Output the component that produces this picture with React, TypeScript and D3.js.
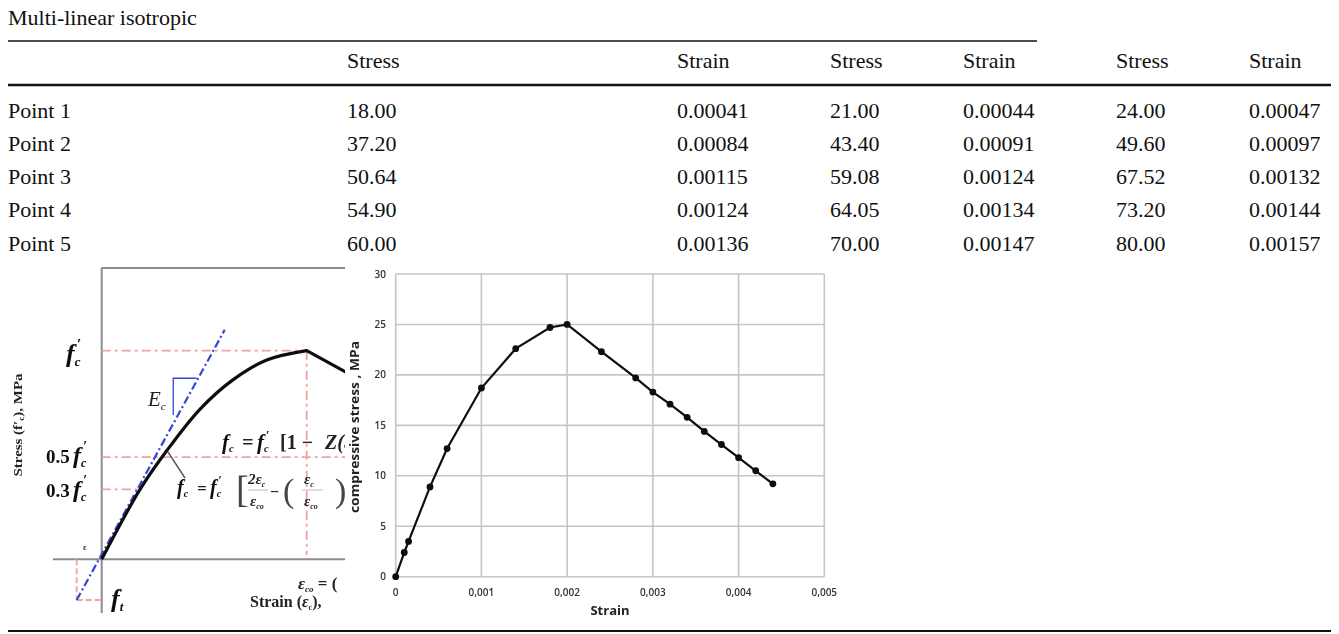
import React from "react";
import * as d3 from "d3";

const W = 1339;
const H = 634;

// ---- table data ----
const tableTitle = "Multi-linear isotropic";
const headerLabels = ["Stress", "Strain", "Stress", "Strain", "Stress", "Strain"];
const pointLabels = ["Point 1", "Point 2", "Point 3", "Point 4", "Point 5"];
const stressA = [18.0, 37.2, 50.64, 54.9, 60.0];
const strainA = [0.00041, 0.00084, 0.00115, 0.00124, 0.00136];
const stressB = [21.0, 43.4, 59.08, 64.05, 70.0];
const strainB = [0.00044, 0.00091, 0.00124, 0.00134, 0.00147];
const stressC = [24.0, 49.6, 67.52, 73.2, 80.0];
const strainC = [0.00047, 0.00097, 0.00132, 0.00144, 0.00157];

// ---- right chart (test curve) ----
const testStrain = [0, 0.0001, 0.00015, 0.0004, 0.0006, 0.001, 0.0014, 0.0018, 0.002, 0.0024, 0.0028, 0.003, 0.0032, 0.0034, 0.0036, 0.0038, 0.004, 0.0042, 0.0044];
const testStress = [0, 2.4, 3.5, 8.9, 12.7, 18.7, 22.6, 24.7, 25.0, 22.3, 19.7, 18.3, 17.1, 15.8, 14.4, 13.1, 11.8, 10.5, 9.2];
const strainTicks = [0, 0.001, 0.002, 0.003, 0.004, 0.005];
const stressTicks = [0, 5, 10, 15, 20, 25, 30];

// ---- left sketch (strain / eps_co, stress / f'c) ----
const sketchRiseStrain = [0, 0.187, 0.317, 0.48, 0.64, 0.805, 1];
const sketchRiseStress = [0, 0.335, 0.52, 0.72, 0.86, 0.955, 1];
const sketchFallStrain = [1, 1.187];
const sketchFallStress = [1, 0.9];
const tangentStrain = [-0.122, 0.6];
const tangentStress = [-0.195, 1.1];
const refLevels = [1, 0.49, 0.335];
const refLevelEnds = [1, 1.2, 0.19];
const tensionStrain = -0.122;
const tensionStress = -0.195;

const serif = "'Liberation Serif', 'Times New Roman', serif";
const sans = "'Open Sans', 'DejaVu Sans', sans-serif";

function FSym({ x, y, size, sub, prime }: { x: number; y: number; size: number; sub: string; prime?: boolean }) {
  return (
    <text x={x} y={y} fontFamily={serif} fontStyle="italic" fontWeight="bold" fontSize={size} fill="#111">
      f
      <tspan fontSize={size * 0.5} dy={size * 0.16}>{sub}</tspan>
      {prime && (
        <tspan fontSize={size * 0.6} dx={-size * 0.14} dy={-size * 0.66}>′</tspan>
      )}
    </text>
  );
}

function Table() {
  const cols = [347, 677, 830, 963, 1116, 1249];
  const rowY = (i: number) => 117.5 + i * 33.3;
  const columns = [stressA, strainA, stressB, strainB, stressC, strainC];
  return (
    <g fontFamily={serif} fontSize={22} fill="#111">
      <text x={8} y={25}>{tableTitle}</text>
      <line x1={8} x2={1037} y1={41} y2={41} stroke="#111" strokeWidth={1.5} />
      {headerLabels.map((h, i) => (
        <text key={i} x={cols[i]} y={67.5}>{h}</text>
      ))}
      <line x1={8} x2={1331} y1={85} y2={85} stroke="#111" strokeWidth={2.6} />
      {pointLabels.map((p, r) => (
        <g key={p}>
          <text x={8} y={rowY(r)}>{p}</text>
          {columns.map((col, c) => (
            <text key={c} x={cols[c]} y={rowY(r)}>
              {c % 2 === 0 ? col[r].toFixed(2) : col[r].toFixed(5)}
            </text>
          ))}
        </g>
      ))}
      <line x1={8} x2={1331} y1={631} y2={631} stroke="#111" strokeWidth={2.2} />
    </g>
  );
}

function Sketch() {
  const lx = d3.scaleLinear().domain([0, 1]).range([101.7, 306.7]);
  const ly = d3.scaleLinear().domain([0, 1]).range([559.3, 350.7]);
  const rise = d3
    .line<number>()
    .x((d) => lx(d))
    .y((_, i) => ly(sketchRiseStress[i]))
    .curve(d3.curveCatmullRom.alpha(0.5))(sketchRiseStrain) as string;
  const fall = d3
    .line<number>()
    .x((d) => lx(d))
    .y((_, i) => ly(sketchFallStress[i]))(sketchFallStrain) as string;
  const red = "#f2a0a0";
  const redDash = "9 4 3 4";
  const gray = "#8c8c8c";
  const blue = "#3446d6";
  const topY = ly(1.397);
  const axisBottom = ly(-0.257);
  const rightEdge = lx(1.2);
  return (
    <g clipPath="url(#sketchClip)">
      <g filter="url(#soft)">
        {/* frame */}
        <line x1={lx(0)} x2={lx(0)} y1={topY} y2={axisBottom} stroke={gray} strokeWidth={2} />
        <line x1={lx(0)} x2={rightEdge} y1={topY} y2={topY} stroke={gray} strokeWidth={2} />
        <line x1={lx(-0.238)} x2={rightEdge} y1={ly(0)} y2={ly(0)} stroke={gray} strokeWidth={2} />

        {/* reference dashes */}
        {refLevels.map((lv, i) => (
          <line key={i} x1={lx(0)} x2={lx(refLevelEnds[i])} y1={ly(lv)} y2={ly(lv)} stroke={red} strokeWidth={1.8} strokeDasharray={redDash} />
        ))}
        <line x1={lx(1)} x2={lx(1)} y1={ly(1)} y2={ly(0.02)} stroke={red} strokeWidth={1.8} strokeDasharray={redDash} />
        <line x1={lx(tensionStrain)} x2={lx(tensionStrain)} y1={ly(0)} y2={ly(tensionStress)} stroke={red} strokeWidth={1.8} strokeDasharray="6 3" />
        <line x1={lx(tensionStrain)} x2={lx(0)} y1={ly(tensionStress)} y2={ly(tensionStress)} stroke={red} strokeWidth={1.8} strokeDasharray="6 3" />

        {/* E_c slope triangle */}
        <polyline
          points={`${lx(0.349)},${ly(0.692)} ${lx(0.349)},${ly(0.868)} ${lx(0.463)},${ly(0.868)}`}
          fill="none"
          stroke={blue}
          strokeWidth={1.3}
        />

        {/* tangent */}
        <line
          x1={lx(tangentStrain[0])}
          x2={lx(tangentStrain[1])}
          y1={ly(tangentStress[0])}
          y2={ly(tangentStress[1])}
          stroke={blue}
          strokeWidth={2.2}
          strokeDasharray="8 3 2 3"
        />

        {/* curve */}
        <path d={rise} fill="none" stroke="#111" strokeWidth={3.2} strokeLinejoin="round" />
        <path d={fall} fill="none" stroke="#111" strokeWidth={3.2} strokeLinecap="round" />

        {/* leader */}
        <line x1={168} y1={452} x2={185} y2={478} stroke="#555" strokeWidth={1.4} />

        {/* labels */}
        <FSym x={66} y={362} size={26} sub="c" prime />
        <text x={46} y={463} fontFamily={serif} fontWeight="bold" fontSize={19} fill="#111">0.5</text>
        <FSym x={73} y={463} size={24} sub="c" prime />
        <text x={46} y={497} fontFamily={serif} fontWeight="bold" fontSize={19} fill="#111">0.3</text>
        <FSym x={73} y={497} size={24} sub="c" prime />
        <text x={148} y={406} fontFamily={serif} fontStyle="italic" fontSize={21} fill="#222">
          E<tspan fontSize={11} dy={4}>c</tspan>
        </text>

        {/* upper formula (cut by the right chart) */}
        <g fontFamily={serif} fontStyle="italic" fontWeight="bold" fontSize={20} fill="#222">
          <FSym x={222} y={449} size={21} sub="c" />
          <text x={242} y={449}>=</text>
          <FSym x={257} y={449} size={21} sub="c" prime />
          <text x={280} y={449} fontStyle="normal">[1 −</text>
          <text x={325} y={449}>Z(ε</text>
        </g>

        {/* lower formula */}
        <g fontFamily={serif} fontStyle="italic" fontWeight="bold" fill="#222">
          <FSym x={177} y={494} size={20} sub="c" />
          <text x={197} y={494} fontSize={17}>=</text>
          <FSym x={210} y={494} size={20} sub="c" prime />
          <text x={236} y={502} fontSize={38} fontWeight="normal" fontStyle="normal" fill="#444">[</text>
          <text x={248} y={484} fontSize={15}>2ε<tspan fontSize={8} dy={3}>c</tspan></text>
          <line x1={248} x2={268} y1={490} y2={490} stroke="#aaa" strokeWidth={0.8} />
          <text x={250} y={506} fontSize={15}>ε<tspan fontSize={8} dy={3}>co</tspan></text>
          <text x={270} y={497} fontSize={16} fontStyle="normal">−</text>
          <text x={283} y={502} fontSize={34} fontWeight="normal" fontStyle="normal" fill="#444">(</text>
          <text x={304} y={484} fontSize={15}>ε<tspan fontSize={8} dy={3}>c</tspan></text>
          <line x1={302} x2={323} y1={490} y2={490} stroke="#aaa" strokeWidth={0.8} />
          <text x={304} y={506} fontSize={15}>ε<tspan fontSize={8} dy={3}>co</tspan></text>
          <text x={335} y={502} fontSize={34} fontWeight="normal" fontStyle="normal" fill="#444">)</text>
        </g>

        {/* axis texts */}
        <text x={83} y={550} fontFamily={serif} fontWeight="bold" fontSize={9} fill="#333">ε</text>
        <FSym x={111} y={607} size={26} sub="t" />
        <text x={298} y={589} fontFamily={serif} fontStyle="italic" fontWeight="bold" fontSize={17} fill="#222">
          ε<tspan fontSize={9} dy={3}>co</tspan>
          <tspan dy={-3} fontStyle="normal"> = (</tspan>
        </text>
        <text x={250} y={607} fontFamily={serif} fontWeight="bold" fontSize={16} fill="#222">
          Strain (<tspan fontStyle="italic">ε</tspan><tspan fontSize={8} dy={3}>c</tspan><tspan dy={-3}>),</tspan>
        </text>
        <text
          transform="translate(22,425) rotate(-90)"
          textAnchor="middle"
          fontFamily={serif}
          fontWeight="bold"
          fontSize={13}
          fill="#222"
          textLength={103}
          lengthAdjust="spacingAndGlyphs"
        >
          Stress (f′<tspan fontSize={8} dy={2}>c</tspan><tspan dy={-2}>), MPa</tspan>
        </text>
      </g>
    </g>
  );
}

function TestChart() {
  const sx = d3.scaleLinear().domain([0, 0.005]).range([395.7, 824.3]);
  const sy = d3.scaleLinear().domain([0, 30]).range([576.7, 274]);
  const path = d3
    .line<number>()
    .x((d) => sx(d))
    .y((_, i) => sy(testStress[i]))(testStrain) as string;
  const fmt = (d: number) => (d === 0 ? "0" : d3.format(".3f")(d).replace(".", ","));
  const grid = "#c6c6c6";
  return (
    <g filter="url(#soft)">
      {stressTicks.map((t) => (
        <line key={"h" + t} x1={sx(0)} x2={sx(0.005)} y1={sy(t)} y2={sy(t)} stroke={grid} strokeWidth={1.6} />
      ))}
      {strainTicks.map((t) => (
        <line key={"v" + t} x1={sx(t)} x2={sx(t)} y1={sy(0)} y2={sy(30)} stroke={grid} strokeWidth={1.6} />
      ))}
      <path d={path} fill="none" stroke="#111" strokeWidth={2.2} />
      {testStrain.map((s, i) => (
        <circle key={i} cx={sx(s)} cy={sy(testStress[i])} r={3.4} fill="#111" />
      ))}
      {stressTicks.map((t) => (
        <text key={"yl" + t} x={386} y={sy(t)} dy="0.35em" textAnchor="end" fontFamily={sans} fontSize={10} fontWeight="600" fill="#333">
          {t}
        </text>
      ))}
      {strainTicks.map((t) => (
        <text key={"xl" + t} x={sx(t)} y={592} dy="0.35em" textAnchor="middle" fontFamily={sans} fontSize={10} fontWeight="600" fill="#333">
          {fmt(t)}
        </text>
      ))}
      <text x={610} y={610} dy="0.35em" textAnchor="middle" fontFamily={sans} fontWeight="bold" fontSize={13} fill="#222">
        Strain
      </text>
      <text
        transform="translate(355,427) rotate(-90)"
        dy="0.35em"
        textAnchor="middle"
        fontFamily={sans}
        fontWeight="bold"
        fontSize={12}
        fill="#222"
        textLength={172}
        lengthAdjust="spacingAndGlyphs"
      >
        compressive stress , MPa
      </text>
    </g>
  );
}

export default function App() {
  return (
    <>
      <style>{"body{margin:0;background:#fff}"}</style>
      <svg width={W} height={H} viewBox={`0 0 ${W} ${H}`} style={{ display: "block", background: "#fff" }}>
        <defs>
          <filter id="soft" x="-5%" y="-5%" width="110%" height="110%">
            <feGaussianBlur stdDeviation="0.5" />
          </filter>
          <clipPath id="sketchClip">
            <rect x={0} y={255} width={345} height={372} />
          </clipPath>
        </defs>
        <Table />
        <Sketch />
        <TestChart />
      </svg>
    </>
  );
}
